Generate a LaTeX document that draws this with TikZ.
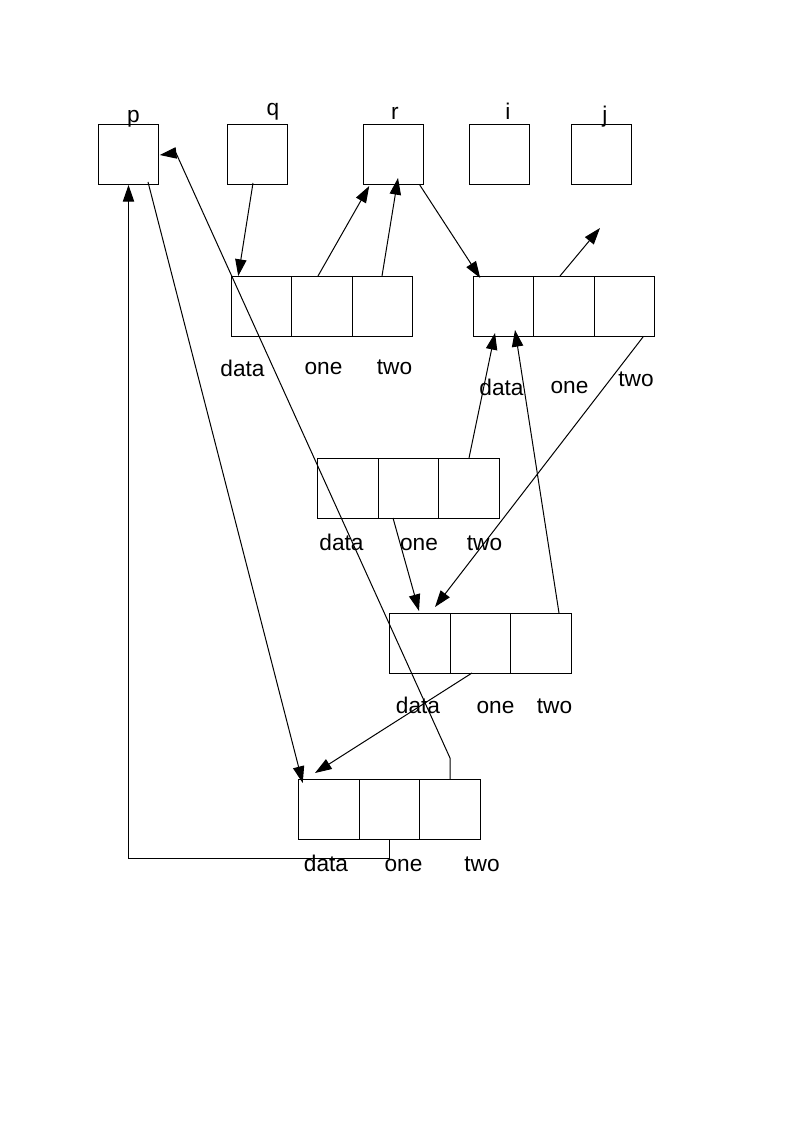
\documentclass[tikz,border=0pt]{standalone}
\usepackage{fontspec}
\setmainfont{Liberation Sans}
\usetikzlibrary{arrows.meta,calc}
\begin{document}
\begin{tikzpicture}[x=0.75pt,y=-0.75pt,
  cell/.style={draw=black,line width=0.75pt,minimum width=45.4pt,minimum height=45pt,inner sep=0pt,outer sep=0pt},
  lbl/.style={anchor=base,inner sep=0pt,font=\fontsize{17}{20}\selectfont},
  arr/.style={line width=0.75pt,-{Triangle[length=12.5pt,width=8.5pt]}},
  ln/.style={line width=0.75pt}]
\useasboundingbox (0,0) rectangle (794,1123);
% top pointer boxes
\node[cell] (p) at (128.5,155) {};
\node[cell] (q) at (257.5,155) {};
\node[cell] (r) at (393.5,155) {};
\node[cell] (i) at (499.5,155) {};
\node[cell] (j) at (601.5,155) {};
\node[lbl] (lp) at (133.5,123) {p};
\node[lbl] (lq) at (273,116) {q};
\node[lbl] (lr) at (395,120) {r};
\node[lbl] (li) at (508,120) {i};
\node[lbl] (lj) at (605,123) {j};
% node A
\node[cell] (A1) at (261.5,306) {};
\node[cell] (A2) at (322,306) {};
\node[cell] (A3) at (382.5,306) {};
\node[lbl] (Ad) at (242.5,376) {data};
\node[lbl] (Ao) at (323.5,374) {one};
\node[lbl] (At) at (394.5,374) {two};
% node B
\node[cell] (B1) at (503.5,306) {};
\node[cell] (B2) at (564,306) {};
\node[cell] (B3) at (624.5,306) {};
\node[lbl] (Bd) at (501.5,395) {data};
\node[lbl] (Bo) at (569.5,393) {one};
\node[lbl] (Bt) at (636,386) {two};
% node C
\node[cell] (C1) at (348,488) {};
\node[cell] (C2) at (408.5,488) {};
\node[cell] (C3) at (469,488) {};
\node[lbl] (Cd) at (341.5,550) {data};
\node[lbl] (Co) at (419,550) {one};
\node[lbl] (Ct) at (484.5,550) {two};
% node D
\node[cell] (D1) at (420,643) {};
\node[cell] (D2) at (480.5,643) {};
\node[cell] (D3) at (541,643) {};
\node[lbl] (Dd) at (418,713) {data};
\node[lbl] (Do) at (495.5,713) {one};
\node[lbl] (Dt) at (554.5,713) {two};
% node E
\node[cell] (E1) at (329,809) {};
\node[cell] (E2) at (389.5,809) {};
\node[cell] (E3) at (450,809) {};
\node[lbl] (Ed) at (326,871) {data};
\node[lbl] (Eo) at (403.5,871) {one};
\node[lbl] (Et) at (482,871) {two};
% connectors
\coordinate (free) at (600,228);
\draw[arr] ($(q.south)+(-4.5,-2)$) -- ($(A1.north west)+(7,0)$);
\draw[arr] ($(A2.north)+(-4,0)$) -- ($(r.south west)+(6,1)$);
\draw[arr] ($(A3.north)+(-0.5,0)$) -- ($(r.south)+(4.5,-7)$);
\draw[arr] ($(r.south east)+(-4,0)$) -- ($(B1.north west)+(7,2)$);
\draw[arr] ($(B2.north)+(-4,0)$) -- (free);
\draw[arr] (C3.north) -- ($(B1.south)+(-8.5,-3)$);
\draw[arr] ($(D3.north)+(18,0)$) -- ($(B1.south)+(11.5,-6)$);
\draw[arr] ($(B3.south)+(18.5,1)$) -- ($(D1.north)+(15,-6)$);
\draw[arr] ($(C2.south)+(-15.5,0)$) -- ($(D1.north)+(-1,-2)$);
\draw[arr] ($(D2.south)+(-8.5,0)$) -- ($(E1.north)+(-14,-6)$);
\draw[arr] ($(p.south)+(19.5,-3)$) -- ($(E1.north west)+(4,4)$);
\draw[arr] (E3.north) -- ++(0,-21) -- (176,153) -- ($(p.east)+(1,0)$);
\draw[arr] (E2.south) -- ++(0,19) -| (p.south);
\end{tikzpicture}
\end{document}
